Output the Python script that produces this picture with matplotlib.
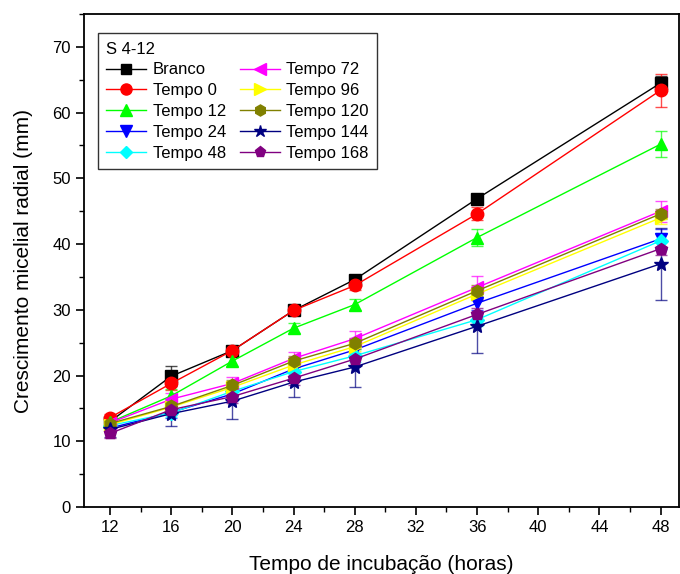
import matplotlib
matplotlib.use("Agg")
import matplotlib.pyplot as plt
from matplotlib.lines import Line2D
from matplotlib.ticker import MultipleLocator

plt.rcParams["font.family"] = ["Liberation Sans", "DejaVu Sans"]

hours = [12, 16, 20, 24, 28, 36, 48]
labels = ["Branco", "Tempo 0", "Tempo 12", "Tempo 24", "Tempo 48",
          "Tempo 72", "Tempo 96", "Tempo 120", "Tempo 144", "Tempo 168"]

branco = [13.0, 19.9, 23.8, 29.9, 34.6, 46.9, 64.5]
t0 = [13.6, 18.8, 23.8, 29.9, 33.7, 44.6, 63.4]
t12 = [12.9, 16.9, 22.2, 27.2, 30.8, 41.0, 55.2]
t24 = [12.0, 14.4, 17.2, 21.0, 23.9, 31.0, 40.8]
t48 = [12.4, 14.3, 17.6, 20.6, 23.0, 28.5, 40.5]
t72 = [12.8, 16.4, 18.8, 22.6, 25.6, 33.4, 45.0]
t96 = [12.5, 15.2, 18.2, 21.6, 24.4, 32.4, 44.0]
t120 = [12.7, 15.3, 18.5, 22.2, 24.9, 32.9, 44.6]
t144 = [11.8, 14.2, 16.1, 19.0, 21.3, 27.5, 37.0]
t168 = [11.2, 14.8, 16.8, 19.6, 22.5, 29.3, 39.3]

err_branco = [0.5, 1.5, 0.5, 0.5, 0.5, 0.6, 1.0]
err_t0 = [0.5, 1.0, 0.5, 0.5, 0.7, 1.0, 2.5]
err_t12 = [0.5, 1.0, 0.8, 0.8, 0.8, 1.3, 2.0]
err_t24 = [0.6, 0.8, 1.0, 1.0, 1.0, 1.0, 1.5]
err_t48 = [0.5, 0.6, 0.8, 0.8, 1.0, 1.0, 1.2]
err_t72 = [0.5, 1.0, 1.0, 1.0, 1.2, 1.8, 1.6]
err_t96 = [0.5, 0.6, 0.6, 0.6, 0.6, 0.8, 1.0]
err_t120 = [0.5, 0.8, 0.8, 0.8, 0.8, 0.8, 0.8]
err_t144 = [1.2, 1.8, 2.7, 2.3, 3.0, 4.0, 5.5]
err_t168 = [0.7, 0.8, 1.0, 1.0, 1.0, 1.0, 1.0]

series = [branco, t0, t12, t24, t48, t72, t96, t120, t144, t168]
errors = [err_branco, err_t0, err_t12, err_t24, err_t48, err_t72,
          err_t96, err_t120, err_t144, err_t168]
colors = ["#000000", "#ff0000", "#00ff00", "#0000ff", "#00ffff",
          "#ff00ff", "#ffff00", "#808000", "#000080", "#800080"]
markers = ["s", "o", "^", "v", "D", "<", ">", "h", "*", "p"]
msizes = [8, 9, 9, 9, 7, 9, 9, 9, 10, 9]

fig = plt.figure(figsize=(6.8, 5.74), dpi=100)
ax = fig.add_axes([0.1235, 0.1167, 0.875, 0.8589])

handles = []
for y, e, c, m, ms, lab in zip(series, errors, colors, markers, msizes, labels):
    eb = ax.errorbar(hours, y, yerr=e, color=c, marker=m, markersize=ms,
                     lw=1.0, elinewidth=1.0, capsize=4, capthick=1.0,
                     ecolor=c)
    for art in eb[2]:
        art.set_alpha(0.7)
    for cap in eb[1]:
        cap.set_alpha(0.7)
    handles.append(Line2D([], [], color=c, marker=m, markersize=ms - 1,
                          lw=1.0, label=lab))

ax.set_xlim(10.3, 49.2)
ax.set_ylim(0, 75)
ax.xaxis.set_major_locator(MultipleLocator(4))
ax.xaxis.set_minor_locator(MultipleLocator(2))
ax.yaxis.set_major_locator(MultipleLocator(10))
ax.yaxis.set_minor_locator(MultipleLocator(5))
ax.set_xticks([12, 16, 20, 24, 28, 32, 36, 40, 44, 48])
ax.tick_params(which="major", direction="out", length=6, width=1.2,
               labelsize=12, top=False, right=False)
ax.tick_params(which="minor", direction="out", length=3.5, width=1.0,
               top=False, right=False)
for sp in ax.spines.values():
    sp.set_linewidth(1.3)

ax.set_xlabel("Tempo de incubação (horas)", fontsize=15, labelpad=14)
ax.set_ylabel("Crescimento micelial radial (mm)", fontsize=15, labelpad=14)

leg = ax.legend(handles=handles, ncol=2, title="S 4-12", loc="upper left",
                bbox_to_anchor=(0.0235, 0.961), borderaxespad=0,
                fontsize=12, title_fontsize=12,
                frameon=True, fancybox=False, edgecolor="black",
                handlelength=2.4, handletextpad=0.4, columnspacing=0.8,
                labelspacing=0.35, borderpad=0.5, alignment="left",
                numpoints=1)
leg.get_frame().set_linewidth(1.0)

fig.savefig("out.png", dpi=100)
